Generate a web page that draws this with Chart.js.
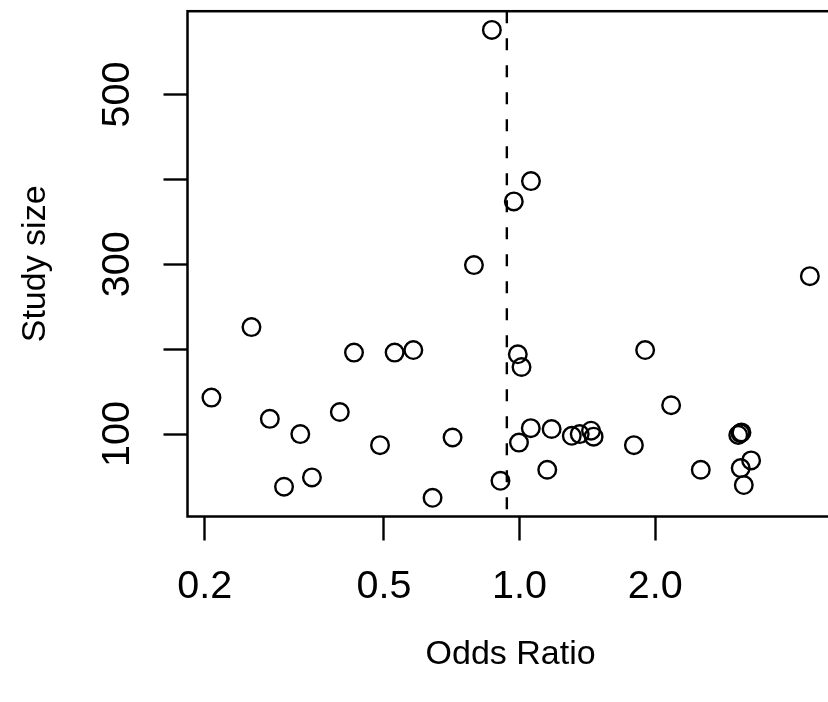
<!DOCTYPE html>
<html>
<head>
<meta charset="utf-8">
<script src="https://cdn.jsdelivr.net/npm/chart.js@4/dist/chart.umd.min.js"></script>
<style>
  html, body { margin: 0; padding: 0; overflow: hidden; background: #fff; }
  canvas { display: block; }
</style>
</head>
<body>
<canvas id="funnel" width="845" height="702"></canvas>
<script>
// odds ratio (x, log scale) and study size (y) for each study
const oddsRatio = [0.868, 1.06, 0.971, 0.792, 0.254, 0.207, 0.279, 0.326, 0.300, 0.346,
  0.399, 0.429, 0.528, 0.581, 0.490, 0.710, 0.641, 0.907, 4.41, 0.991,
  1.01, 1.90, 2.17, 1.059, 1.178, 0.997, 1.306, 1.36, 1.441, 1.46,
  1.794, 1.152, 2.525, 3.058, 3.094, 3.109, 3.266, 3.097, 3.146];
const studySize = [576, 398, 374, 299, 226, 143, 118, 100, 38, 49,
  126, 196, 196, 199, 87, 96, 25, 45, 286, 194,
  179, 199, 134, 107, 106, 90, 98, 100, 104, 97,
  87, 58, 58, 99, 101, 102, 69, 60, 40];

// pooled odds ratio (dashed reference line)
const pooledOR = 0.937;

const xTicks = [0.2, 0.5, 1.0, 2.0];
const xTickLabels = ['0.2', '0.5', '1.0', '2.0'];
const yTicks = [100, 200, 300, 400, 500];
const yTickLabels = ['100', '', '300', '', '500'];

// R-style axis limits: data range plus 4% on each side
const logX = oddsRatio.map(v => Math.log10(v));
const lxMin = Math.min(...logX), lxMax = Math.max(...logX);
const xMin = Math.pow(10, lxMin - 0.04 * (lxMax - lxMin));
const xMax = Math.pow(10, lxMax + 0.04 * (lxMax - lxMin));
const syMin = Math.min(...studySize), syMax = Math.max(...studySize);
const yMin = syMin - 0.04 * (syMax - syMin);
const yMax = syMax + 0.04 * (syMax - syMin);

const FONT = '"Liberation Sans", Arial, Helvetica, sans-serif';

const points = oddsRatio.map((v, i) => ({ x: v, y: studySize[i] }));

const boxPlugin = {
  id: 'box',
  afterDatasetsDraw(chart) {
    const { ctx, chartArea: a } = chart;
    ctx.save();
    ctx.strokeStyle = '#000';
    ctx.lineWidth = 2.5;
    ctx.strokeRect(a.left, a.top, a.right - a.left, a.bottom - a.top);
    ctx.restore();
  }
};

const ctx = document.getElementById('funnel').getContext('2d');
new Chart(ctx, {
  type: 'scatter',
  data: {
    datasets: [
      {
        label: 'Studies',
        data: points,
        pointStyle: 'circle',
        pointRadius: 8.8,
        pointHoverRadius: 8.8,
        borderWidth: 2.4,
        borderColor: '#000',
        backgroundColor: 'rgba(0,0,0,0)'
      },
      {
        type: 'line',
        label: 'Pooled OR',
        data: [{ x: pooledOR, y: yMax }, { x: pooledOR, y: yMin }],
        borderColor: '#000',
        borderWidth: 2.4,
        borderDash: [12, 15],
        pointRadius: 0,
        fill: false
      }
    ]
  },
  options: {
    responsive: false,
    animation: false,
    devicePixelRatio: 1,
    layout: { padding: { top: 7, right: 7, bottom: 0, left: 0 } },
    plugins: {
      legend: { display: false },
      tooltip: { enabled: false }
    },
    scales: {
      x: {
        type: 'logarithmic',
        min: xMin,
        max: xMax,
        bounds: 'data',
        border: { display: false },
        grid: {
          drawOnChartArea: false,
          drawTicks: true,
          tickLength: 24,
          tickWidth: 2.4,
          tickColor: '#000'
        },
        afterBuildTicks: scale => { scale.ticks = xTicks.map(v => ({ value: v })); },
        afterFit: scale => {
          scale.height = 185.5;
          scale.paddingLeft = 0;
          scale.paddingRight = 0;
        },
        ticks: {
          autoSkip: false,
          maxRotation: 0,
          padding: 23,
          color: '#000',
          font: { family: FONT, size: 39.5 },
          callback: (v, i) => xTickLabels[i]
        },
        title: {
          display: true,
          text: 'Odds Ratio',
          color: '#000',
          font: { family: FONT, size: 34 },
          padding: { top: 0, bottom: 27 }
        }
      },
      y: {
        type: 'linear',
        min: yMin,
        max: yMax,
        bounds: 'data',
        border: { display: false },
        grid: {
          drawOnChartArea: false,
          drawTicks: true,
          tickLength: 24,
          tickWidth: 2.4,
          tickColor: '#000'
        },
        afterBuildTicks: scale => { scale.ticks = yTicks.map(v => ({ value: v })); },
        afterFit: scale => {
          scale.width = 187.5;
          scale.paddingTop = 0;
          scale.paddingBottom = 0;
        },
        ticks: {
          autoSkip: false,
          minRotation: 90,
          maxRotation: 90,
          crossAlign: 'center',
          padding: 12,
          color: '#000',
          font: { family: FONT, size: 39.5 },
          callback: (v, i) => yTickLabels[i]
        },
        title: {
          display: true,
          text: 'Study size',
          color: '#000',
          font: { family: FONT, size: 34 },
          padding: { top: 15, bottom: 0 }
        }
      }
    }
  },
  plugins: [boxPlugin]
});
</script>
</body>
</html>
